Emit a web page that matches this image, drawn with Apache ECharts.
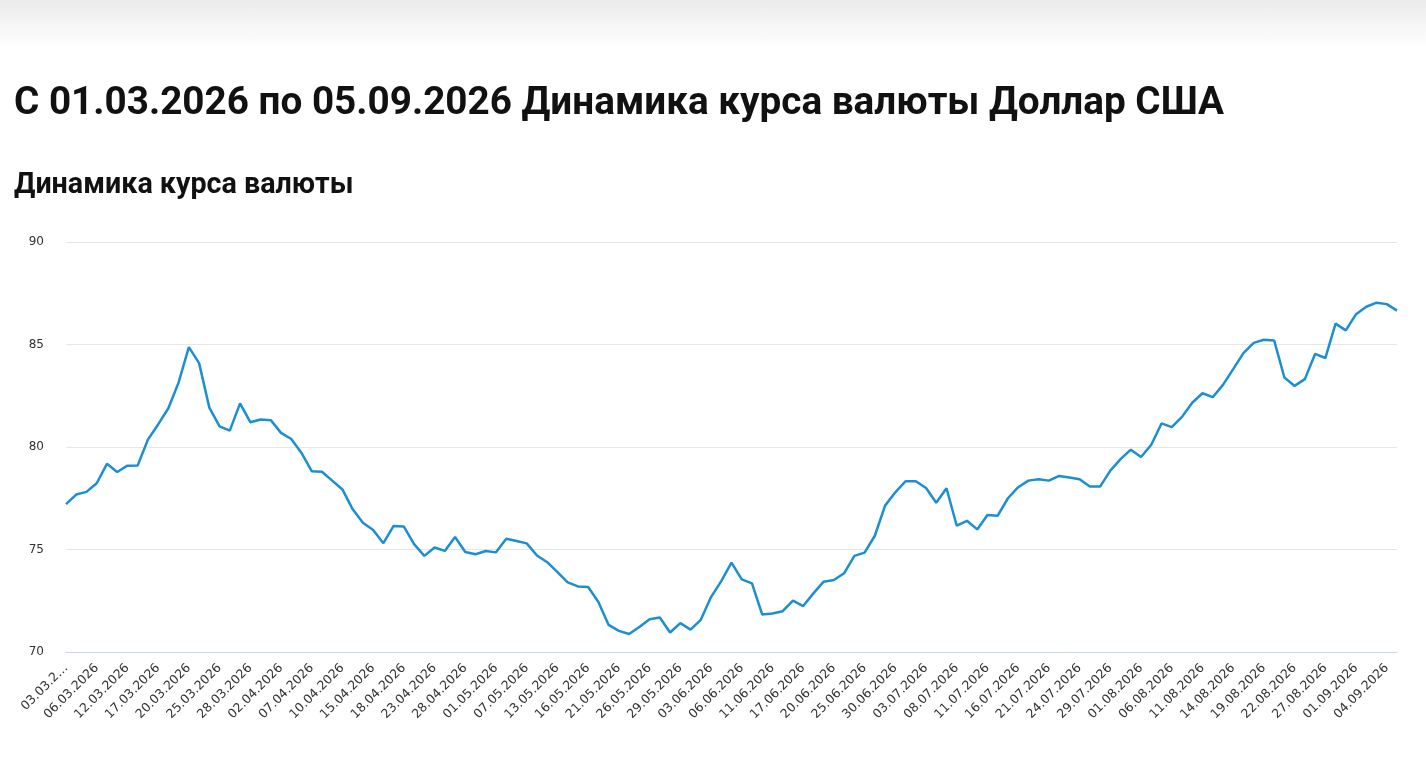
<!DOCTYPE html>
<html>
<head>
<meta charset="utf-8">
<script src="https://cdn.jsdelivr.net/npm/echarts@6/dist/echarts.min.js"></script>
<style>
  html, body { margin: 0; padding: 0; background: #fff; }
  #topbar { position: absolute; left: 0; top: 0; width: 1426px; height: 48px;
            background: linear-gradient(#ebebeb, #ffffff); }
  #chart { position: absolute; left: 0; top: 0; width: 1426px; height: 762px; }
</style>
</head>
<body>
<div id="topbar"></div>
<div id="chart"></div>
<script>
const categories = [
  '03.03.2026','04.03.2026','05.03.2026','06.03.2026','07.03.2026','11.03.2026','12.03.2026','13.03.2026','14.03.2026',
  '17.03.2026','18.03.2026','19.03.2026','20.03.2026','21.03.2026','24.03.2026','25.03.2026','26.03.2026','27.03.2026','28.03.2026','31.03.2026',
  '01.04.2026','02.04.2026','03.04.2026','04.04.2026','07.04.2026','08.04.2026','09.04.2026','10.04.2026','11.04.2026',
  '14.04.2026','15.04.2026','16.04.2026','17.04.2026','18.04.2026','21.04.2026','22.04.2026','23.04.2026','24.04.2026','25.04.2026',
  '28.04.2026','29.04.2026','30.04.2026',
  '01.05.2026','05.05.2026','06.05.2026','07.05.2026','08.05.2026','09.05.2026','13.05.2026','14.05.2026','15.05.2026','16.05.2026',
  '19.05.2026','20.05.2026','21.05.2026','22.05.2026','23.05.2026','26.05.2026','27.05.2026','28.05.2026','29.05.2026','30.05.2026',
  '02.06.2026','03.06.2026','04.06.2026','05.06.2026','06.06.2026','09.06.2026','10.06.2026','11.06.2026','12.06.2026',
  '16.06.2026','17.06.2026','18.06.2026','19.06.2026','20.06.2026','23.06.2026','24.06.2026','25.06.2026','26.06.2026','27.06.2026','30.06.2026',
  '01.07.2026','02.07.2026','03.07.2026','04.07.2026','07.07.2026','08.07.2026','09.07.2026','10.07.2026','11.07.2026',
  '14.07.2026','15.07.2026','16.07.2026','17.07.2026','18.07.2026','21.07.2026','22.07.2026','23.07.2026','24.07.2026','25.07.2026',
  '28.07.2026','29.07.2026','30.07.2026','31.07.2026',
  '01.08.2026','04.08.2026','05.08.2026','06.08.2026','07.08.2026','08.08.2026','11.08.2026','12.08.2026','13.08.2026','14.08.2026','15.08.2026',
  '18.08.2026','19.08.2026','20.08.2026','21.08.2026','22.08.2026','25.08.2026','26.08.2026','27.08.2026','28.08.2026','29.08.2026',
  '01.09.2026','02.09.2026','03.09.2026','04.09.2026','05.09.2026'
];

const usdRates = [
  77.21, 77.68, 77.81, 78.23, 79.18, 78.78, 79.09, 79.10, 80.36, 81.10,
  81.89, 83.15, 84.87, 84.09, 81.92, 81.01, 80.80, 82.13, 81.21, 81.34,
  81.31, 80.69, 80.39, 79.71, 78.82, 78.79, 78.36, 77.93, 76.96, 76.31,
  75.95, 75.31, 76.15, 76.12, 75.26, 74.69, 75.10, 74.93, 75.61, 74.88,
  74.77, 74.93, 74.86, 75.52, 75.41, 75.30, 74.71, 74.38, 73.90, 73.40,
  73.20, 73.17, 72.44, 71.32, 71.03, 70.88, 71.22, 71.60, 71.68, 70.95,
  71.41, 71.09, 71.57, 72.68, 73.46, 74.36, 73.54, 73.35, 71.83, 71.88,
  71.99, 72.51, 72.24, 72.86, 73.43, 73.51, 73.84, 74.69, 74.85, 75.67,
  77.14, 77.79, 78.33, 78.33, 78.00, 77.28, 77.99, 76.16, 76.40, 75.98,
  76.68, 76.65, 77.50, 78.04, 78.36, 78.43, 78.36, 78.59, 78.51, 78.43,
  78.07, 78.07, 78.85, 79.41, 79.87, 79.51, 80.11, 81.15, 80.97, 81.47,
  82.16, 82.62, 82.43, 83.03, 83.80, 84.58, 85.08, 85.23, 85.20, 83.39,
  82.98, 83.31, 84.54, 84.34, 86.02, 85.69, 86.48, 86.84, 87.04, 86.97,
  86.65
];

const yMin = 70, yMax = 90, yStep = 5;
const mainTitle = 'С 01.03.2026 по 05.09.2026 Динамика курса валюты Доллар США';
const subTitle = 'Динамика курса валюты';

const chart = echarts.init(document.getElementById('chart'), null, { renderer: 'canvas' });
chart.setOption({
  animation: false,
  backgroundColor: 'transparent',
  title: [
    { text: mainTitle, left: 9, top: 80,
      textStyle: { fontFamily: 'Roboto', fontWeight: 'bold', fontSize: 38.7, color: '#111111' } },
    { text: subTitle, left: 9, top: 166,
      textStyle: { fontFamily: 'Roboto', fontWeight: 'bold', fontSize: 28.7, color: '#111111' } }
  ],
  grid: { left: 66, right: 29, top: 242, bottom: 110, containLabel: false },
  xAxis: {
    type: 'category',
    data: categories,
    boundaryGap: false,
    axisLine: { show: true, lineStyle: { color: '#ccd6eb', width: 1 } },
    axisTick: { show: false },
    axisLabel: {
      interval: 2,
      rotate: 45,
      margin: 14,
      fontSize: 12.5,
      fontFamily: 'DejaVu Sans, sans-serif',
      color: '#333333',
      formatter: function (value, index) {
        return index === 0 ? value.slice(0, 7) + '…' : value;
      }
    },
    splitLine: { show: false }
  },
  yAxis: {
    type: 'value',
    min: yMin,
    max: yMax,
    interval: yStep,
    axisLine: { show: false },
    axisTick: { show: false },
    axisLabel: { margin: 22, fontSize: 12, fontFamily: 'DejaVu Sans, sans-serif', color: '#333333' },
    splitLine: { show: true, lineStyle: { color: '#e6e6e6', width: 1 } }
  },
  series: [{
    type: 'line',
    data: usdRates,
    showSymbol: false,
    symbol: 'none',
    smooth: false,
    lineStyle: { color: '#1b8fd2', width: 2.5 },
    itemStyle: { color: '#1b8fd2' }
  }]
});
</script>
</body>
</html>
